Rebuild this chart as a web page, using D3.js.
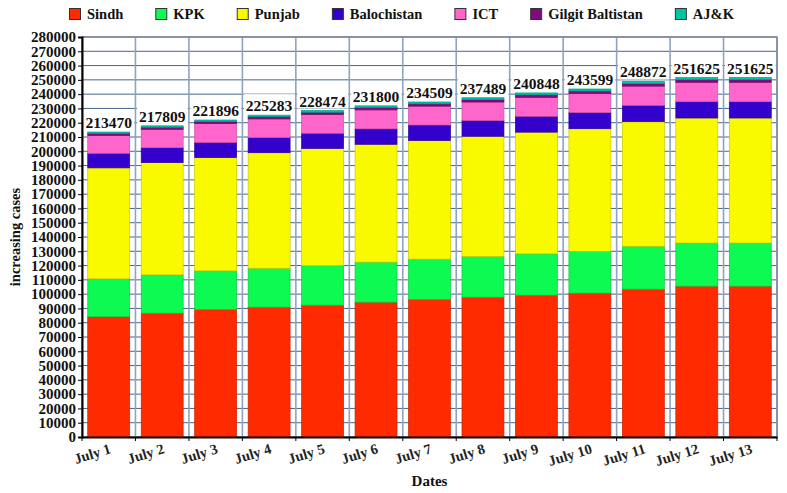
<!DOCTYPE html>
<html>
<head>
<meta charset="utf-8">
<script src="https://cdn.jsdelivr.net/npm/d3@7"></script>
<style>
  body { margin: 0; background: #fff; }
  svg { display: block; font-family: "Liberation Serif", "Times New Roman", serif; font-weight: bold; }
</style>
</head>
<body>
<div id="chart"></div>
<script>
// Pakistan cumulative cases by region, July 1-13
const dates = ["July 1", "July 2", "July 3", "July 4", "July 5", "July 6", "July 7",
  "July 8", "July 9", "July 10", "July 11", "July 12", "July 13"];
const totals = [213470, 217809, 221896, 225283, 228474, 231800, 234509,
  237489, 240848, 243599, 248872, 251625, 251625];

const sindh = [84200, 86700, 89300, 90900, 92300, 94400, 96300, 97900, 99300, 100700, 103500, 105600, 105600];
const kpk = [26500, 26800, 27000, 27200, 27600, 28000, 28200, 28500, 28900, 29300, 30000, 30200, 30200];
const punjab = [77700, 78600, 79300, 80900, 82100, 82500, 83000, 84100, 85200, 85800, 87200, 87500, 87500];
const balochistan = [10200, 10400, 10600, 10600, 10600, 10800, 10900, 11000, 11100, 11300, 11400, 11400, 11400];
const ict = [12550, 12889, 13166, 13053, 13144, 13280, 13199, 12989, 13278, 13349, 13532, 13605, 13605];
const gilgit = [1420, 1460, 1510, 1550, 1590, 1620, 1650, 1680, 1700, 1730, 1770, 1800, 1800];
const ajk = [900, 960, 1020, 1080, 1140, 1200, 1260, 1320, 1370, 1420, 1470, 1520, 1520];

const regions = ["Sindh", "KPK", "Punjab", "Balochistan", "ICT", "Gilgit Baltistan", "AJ&K"];
const regionColors = ["#ff2a00", "#0cfa52", "#f9f900", "#3300cc", "#ff66cc", "#800a80", "#00c4a2"];
const yTicks = d3.range(0, 280001, 10000);

const seriesValues = [sindh, kpk, punjab, balochistan, ict, gilgit, ajk];
const rows = dates.map((d, i) => {
  const row = { date: d, total: totals[i] };
  regions.forEach((r, k) => { row[r] = seriesValues[k][i]; });
  return row;
});

const width = 787, height = 493;
const margin = { top: 37, right: 10, bottom: 56, left: 82 };

const svg = d3.select("#chart").append("svg")
  .attr("width", width)
  .attr("height", height);

const x = d3.scaleBand()
  .domain(dates)
  .range([margin.left, width - margin.right])
  .paddingInner(0.215)
  .paddingOuter(0.1075);

const y = d3.scaleLinear()
  .domain([0, 280000])
  .range([height - margin.bottom, margin.top]);

const color = d3.scaleOrdinal().domain(regions).range(regionColors);

// grid
const grid = svg.append("g");
grid.selectAll("line.h")
  .data(yTicks)
  .join("line")
    .attr("class", "h")
    .attr("x1", margin.left).attr("x2", width - margin.right)
    .attr("y1", d => y(d)).attr("y2", d => y(d))
    .attr("stroke", "#46658c")
    .attr("stroke-width", 1);

const bounds = d3.range(dates.length + 1).map(i => margin.left + i * x.step());
grid.selectAll("line.v")
  .data(bounds)
  .join("line")
    .attr("class", "v")
    .attr("x1", d => d).attr("x2", d => d)
    .attr("y1", margin.top).attr("y2", height - margin.bottom)
    .attr("stroke", "#8ea3bd")
    .attr("stroke-width", 1.6);

// plot border
svg.append("rect")
  .attr("x", margin.left).attr("y", margin.top)
  .attr("width", width - margin.left - margin.right)
  .attr("height", height - margin.top - margin.bottom)
  .attr("fill", "none")
  .attr("stroke", "#7a7f88")
  .attr("stroke-width", 1.2);

// stacked bars
const stacked = d3.stack().keys(regions)(rows);
svg.append("g")
  .selectAll("g")
  .data(stacked)
  .join("g")
    .attr("fill", d => color(d.key))
    .attr("stroke", d => d3.color(color(d.key)).darker(0.6))
    .attr("stroke-width", 0.7)
  .selectAll("rect")
  .data(d => d)
  .join("rect")
    .attr("x", d => x(d.data.date))
    .attr("width", x.bandwidth())
    .attr("y", d => y(d[1]))
    .attr("height", d => y(d[0]) - y(d[1]));

// value labels with white boxes
const labels = svg.append("g");
const lab = labels.selectAll("g")
  .data(rows)
  .join("g");
lab.append("text")
  .attr("x", d => x(d.date) + x.bandwidth() / 2)
  .attr("y", d => y(d.total) - 4)
  .attr("text-anchor", "middle")
  .attr("font-size", 15.5)
  .attr("fill", "#111")
  .text(d => d.total);
lab.each(function () {
  const g = d3.select(this);
  const bb = g.select("text").node().getBBox();
  g.insert("rect", "text")
    .attr("x", bb.x - 2).attr("y", bb.y - 3)
    .attr("width", bb.width + 4).attr("height", bb.height + 2)
    .attr("fill", "#fff");
});

// y axis
const yAxis = svg.append("g")
  .attr("transform", `translate(${margin.left},0)`)
  .call(d3.axisLeft(y).tickValues(yTicks).tickSize(4).tickPadding(2).tickFormat(d3.format("d")));
yAxis.select(".domain").attr("stroke", "#000").attr("stroke-width", 2);
yAxis.selectAll(".tick line").attr("stroke", "#000");
yAxis.selectAll(".tick text")
  .attr("font-size", 15)
  .attr("font-family", "Liberation Serif, serif")
  .attr("font-weight", "bold")
  .attr("fill", "#111");

// x axis
const xAxis = svg.append("g")
  .attr("transform", `translate(0,${height - margin.bottom})`)
  .call(d3.axisBottom(x).tickSize(0));
xAxis.select(".domain").attr("stroke", "#000").attr("stroke-width", 2);
xAxis.selectAll(".tick text")
  .attr("font-size", 14.5)
  .attr("font-family", "Liberation Serif, serif")
  .attr("font-weight", "bold")
  .attr("fill", "#222")
  .attr("text-anchor", "end")
  .attr("y", 0).attr("dy", 0)
  .attr("transform", "translate(3,16) rotate(-17)");
xAxis.selectAll("line.bt")
  .data(bounds)
  .join("line")
    .attr("class", "bt")
    .attr("x1", d => d).attr("x2", d => d)
    .attr("y1", 0).attr("y2", 4)
    .attr("stroke", "#000");

// axis titles
svg.append("text")
  .attr("x", (margin.left + width - margin.right) / 2)
  .attr("y", 486)
  .attr("text-anchor", "middle")
  .attr("font-size", 15)
  .attr("fill", "#111")
  .text("Dates");

svg.append("text")
  .attr("transform", `translate(20,${(margin.top + height - margin.bottom) / 2}) rotate(-90)`)
  .attr("text-anchor", "middle")
  .attr("font-size", 14.5)
  .attr("fill", "#111")
  .text("increasing cases");

// legend
const legend = svg.append("g");
let lx = 69;
regions.forEach(r => {
  legend.append("rect")
    .attr("x", lx + 0.5).attr("y", 8.5)
    .attr("width", 11).attr("height", 11)
    .attr("fill", color(r))
    .attr("stroke", "#333")
    .attr("stroke-width", 1);
  const t = legend.append("text")
    .attr("x", lx + 18)
    .attr("y", 19)
    .attr("font-size", 14.5)
    .attr("fill", "#111")
    .text(r);
  lx += 18 + t.node().getComputedTextLength() + 32;
});
</script>
</body>
</html>
